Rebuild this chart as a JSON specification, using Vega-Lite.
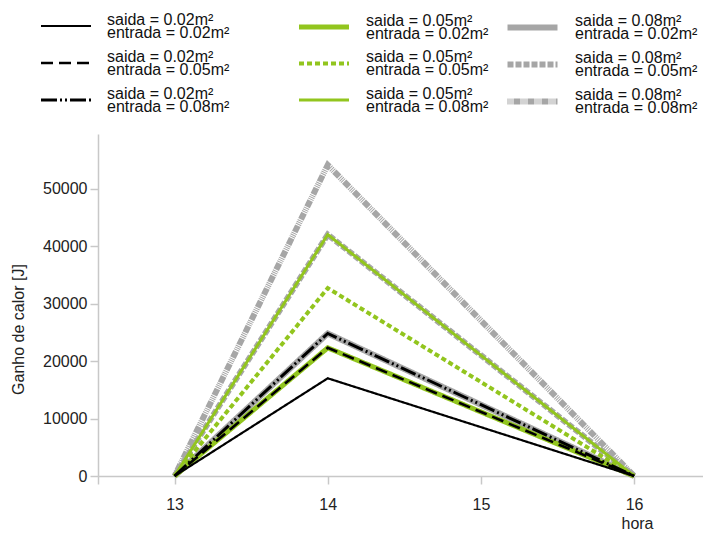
{
  "$schema": "https://vega.github.io/schema/vega-lite/v6.json",
  "width": 605,
  "height": 342,
  "autosize": {"type": "none"},
  "padding": {"left": 98, "top": 134, "right": 0, "bottom": 57},
  "background": "white",
  "data": {
    "values": [
      {"hora": 13, "ganho": 0, "saida": "0.02", "serie": "saida = 0.02m²|entrada = 0.02m²"},
      {"hora": 14, "ganho": 17000, "saida": "0.02", "serie": "saida = 0.02m²|entrada = 0.02m²"},
      {"hora": 16, "ganho": 0, "saida": "0.02", "serie": "saida = 0.02m²|entrada = 0.02m²"},
      {"hora": 13, "ganho": 0, "saida": "0.02", "serie": "saida = 0.02m²|entrada = 0.05m²"},
      {"hora": 14, "ganho": 22300, "saida": "0.02", "serie": "saida = 0.02m²|entrada = 0.05m²"},
      {"hora": 16, "ganho": 0, "saida": "0.02", "serie": "saida = 0.02m²|entrada = 0.05m²"},
      {"hora": 13, "ganho": 0, "saida": "0.02", "serie": "saida = 0.02m²|entrada = 0.08m²"},
      {"hora": 14, "ganho": 24800, "saida": "0.02", "serie": "saida = 0.02m²|entrada = 0.08m²"},
      {"hora": 16, "ganho": 0, "saida": "0.02", "serie": "saida = 0.02m²|entrada = 0.08m²"},
      {"hora": 13, "ganho": 0, "saida": "0.05", "serie": "saida = 0.05m²|entrada = 0.02m²"},
      {"hora": 14, "ganho": 22300, "saida": "0.05", "serie": "saida = 0.05m²|entrada = 0.02m²"},
      {"hora": 16, "ganho": 0, "saida": "0.05", "serie": "saida = 0.05m²|entrada = 0.02m²"},
      {"hora": 13, "ganho": 0, "saida": "0.05", "serie": "saida = 0.05m²|entrada = 0.05m²"},
      {"hora": 14, "ganho": 32700, "saida": "0.05", "serie": "saida = 0.05m²|entrada = 0.05m²"},
      {"hora": 16, "ganho": 0, "saida": "0.05", "serie": "saida = 0.05m²|entrada = 0.05m²"},
      {"hora": 13, "ganho": 0, "saida": "0.05", "serie": "saida = 0.05m²|entrada = 0.08m²"},
      {"hora": 14, "ganho": 42000, "saida": "0.05", "serie": "saida = 0.05m²|entrada = 0.08m²"},
      {"hora": 16, "ganho": 0, "saida": "0.05", "serie": "saida = 0.05m²|entrada = 0.08m²"},
      {"hora": 13, "ganho": 0, "saida": "0.08", "serie": "saida = 0.08m²|entrada = 0.02m²"},
      {"hora": 14, "ganho": 24800, "saida": "0.08", "serie": "saida = 0.08m²|entrada = 0.02m²"},
      {"hora": 16, "ganho": 0, "saida": "0.08", "serie": "saida = 0.08m²|entrada = 0.02m²"},
      {"hora": 13, "ganho": 0, "saida": "0.08", "serie": "saida = 0.08m²|entrada = 0.05m²"},
      {"hora": 14, "ganho": 42000, "saida": "0.08", "serie": "saida = 0.08m²|entrada = 0.05m²"},
      {"hora": 16, "ganho": 0, "saida": "0.08", "serie": "saida = 0.08m²|entrada = 0.05m²"},
      {"hora": 13, "ganho": 0, "saida": "0.08", "serie": "saida = 0.08m²|entrada = 0.08m²"},
      {"hora": 14, "ganho": 54100, "saida": "0.08", "serie": "saida = 0.08m²|entrada = 0.08m²"},
      {"hora": 16, "ganho": 0, "saida": "0.08", "serie": "saida = 0.08m²|entrada = 0.08m²"}
    ]
  },
  "layer": [
    {
      "transform": [{"filter": "datum.saida == '0.08'"}],
      "mark": {"type": "line", "strokeCap": "butt", "strokeJoin": "miter"},
      "encoding": {
        "x": {
          "field": "hora", "type": "quantitative",
          "scale": {"domain": [12.5, 16.45], "nice": false, "zero": false},
          "axis": {
            "values": [12.5, 13, 14, 15, 16],
            "labelExpr": "datum.value == 12.5 ? '' : format(datum.value, 'd')",
            "grid": false, "tickSize": 8, "labelPadding": 12,
            "title": "hora", "titleX": 539, "titleY": 47,
            "titleAlign": "center", "titleBaseline": "middle"
          }
        },
        "y": {
          "field": "ganho", "type": "quantitative",
          "scale": {"domain": [0, 59500], "nice": false},
          "axis": {
            "values": [0, 10000, 20000, 30000, 40000, 50000],
            "format": "d",
            "grid": false, "tickSize": 8, "labelPadding": 3,
            "title": "Ganho de calor [J]", "titleX": -80, "titleY": 195,
            "titleAlign": "center", "titleBaseline": "middle", "titleAngle": -90
          }
        },
        "detail": {"field": "serie"},
        "color": {
          "field": "serie", "type": "nominal",
          "scale": {"domain": ["saida = 0.08m²|entrada = 0.02m²", "saida = 0.08m²|entrada = 0.05m²", "saida = 0.08m²|entrada = 0.08m²"], "range": ["#a6a6a6", "#a6a6a6", "#a6a6a6"]},
          "legend": {"legendX": 419, "legendY": -122, "labelExpr": "split(datum.label, '|')", "encode": {"labels": {"update": {"lineHeight": {"value": 13}, "dy": {"value": -6.5}}}}}
        },
        "strokeDash": {
          "field": "serie", "type": "nominal",
          "scale": {"domain": ["saida = 0.08m²|entrada = 0.02m²", "saida = 0.08m²|entrada = 0.05m²", "saida = 0.08m²|entrada = 0.08m²"], "range": [[1, 0], [6, 2], [1, 1, 1, 1, 1, 1, 7, 1]]},
          "legend": {"legendX": 419, "legendY": -122, "labelExpr": "split(datum.label, '|')", "encode": {"labels": {"update": {"lineHeight": {"value": 13}, "dy": {"value": -6.5}}}}}
        },
        "strokeWidth": {
          "field": "serie", "type": "nominal",
          "scale": {"domain": ["saida = 0.08m²|entrada = 0.02m²", "saida = 0.08m²|entrada = 0.05m²", "saida = 0.08m²|entrada = 0.08m²"], "range": [6, 6, 6]},
          "legend": {"legendX": 419, "legendY": -122, "labelExpr": "split(datum.label, '|')", "encode": {"labels": {"update": {"lineHeight": {"value": 13}, "dy": {"value": -6.5}}}}}
        }
      }
    },
    {
      "transform": [{"filter": "datum.saida == '0.05'"}],
      "mark": {"type": "line", "strokeCap": "butt", "strokeJoin": "miter"},
      "encoding": {
        "x": {"field": "hora", "type": "quantitative"},
        "y": {"field": "ganho", "type": "quantitative"},
        "detail": {"field": "serie"},
        "color": {
          "field": "serie", "type": "nominal",
          "scale": {"domain": ["saida = 0.05m²|entrada = 0.02m²", "saida = 0.05m²|entrada = 0.05m²", "saida = 0.05m²|entrada = 0.08m²"], "range": ["#92c51e", "#92c51e", "#92c51e"]},
          "legend": {"legendX": 211, "legendY": -122, "labelExpr": "split(datum.label, '|')", "encode": {"labels": {"update": {"lineHeight": {"value": 13}, "dy": {"value": -6.5}}}}}
        },
        "strokeDash": {
          "field": "serie", "type": "nominal",
          "scale": {"domain": ["saida = 0.05m²|entrada = 0.02m²", "saida = 0.05m²|entrada = 0.05m²", "saida = 0.05m²|entrada = 0.08m²"], "range": [[1, 0], [5, 3], [1, 0]]},
          "legend": {"legendX": 211, "legendY": -122, "labelExpr": "split(datum.label, '|')", "encode": {"labels": {"update": {"lineHeight": {"value": 13}, "dy": {"value": -6.5}}}}}
        },
        "strokeWidth": {
          "field": "serie", "type": "nominal",
          "scale": {"domain": ["saida = 0.05m²|entrada = 0.02m²", "saida = 0.05m²|entrada = 0.05m²", "saida = 0.05m²|entrada = 0.08m²"], "range": [5, 3, 1.5]},
          "legend": {"legendX": 211, "legendY": -122, "labelExpr": "split(datum.label, '|')", "encode": {"labels": {"update": {"lineHeight": {"value": 13}, "dy": {"value": -6.5}}}}}
        }
      }
    },
    {
      "transform": [{"filter": "datum.saida == '0.02'"}],
      "mark": {"type": "line", "strokeCap": "butt", "strokeJoin": "miter"},
      "encoding": {
        "x": {"field": "hora", "type": "quantitative"},
        "y": {"field": "ganho", "type": "quantitative"},
        "detail": {"field": "serie"},
        "color": {
          "field": "serie", "type": "nominal",
          "scale": {"domain": ["saida = 0.02m²|entrada = 0.02m²", "saida = 0.02m²|entrada = 0.05m²", "saida = 0.02m²|entrada = 0.08m²"], "range": ["#000000", "#000000", "#000000"]},
          "legend": {"legendX": -46, "legendY": -122, "labelExpr": "split(datum.label, '|')", "encode": {"labels": {"update": {"lineHeight": {"value": 13}, "dy": {"value": -6.5}}}}}
        },
        "strokeDash": {
          "field": "serie", "type": "nominal",
          "scale": {"domain": ["saida = 0.02m²|entrada = 0.02m²", "saida = 0.02m²|entrada = 0.05m²", "saida = 0.02m²|entrada = 0.08m²"], "range": [[1, 0], [12, 6], [16, 3, 2, 3, 2, 3]]},
          "legend": {"legendX": -46, "legendY": -122, "labelExpr": "split(datum.label, '|')", "encode": {"labels": {"update": {"lineHeight": {"value": 13}, "dy": {"value": -6.5}}}}}
        },
        "strokeWidth": {
          "field": "serie", "type": "nominal",
          "scale": {"domain": ["saida = 0.02m²|entrada = 0.02m²", "saida = 0.02m²|entrada = 0.05m²", "saida = 0.02m²|entrada = 0.08m²"], "range": [2.2, 3, 3.5]},
          "legend": {"legendX": -46, "legendY": -122, "labelExpr": "split(datum.label, '|')", "encode": {"labels": {"update": {"lineHeight": {"value": 13}, "dy": {"value": -6.5}}}}}
        }
      }
    }
  ],
  "resolve": {"scale": {"color": "independent", "strokeDash": "independent", "strokeWidth": "independent"}},
  "config": {
    "view": {"stroke": null},
    "font": "Liberation Sans",
    "axis": {
      "domainColor": "#c8c8c8", "domainWidth": 1.5, "tickColor": "#c8c8c8", "tickWidth": 1.5,
      "labelFont": "Liberation Sans", "labelFontSize": 16, "labelColor": "#222222",
      "titleFont": "Liberation Sans", "titleFontSize": 16, "titleFontWeight": "normal", "titleColor": "#222222"
    },
    "legend": {
      "orient": "none", "title": null, "symbolType": "M-2,0H2", "symbolSize": 625,
      "labelFont": "Liberation Sans", "labelFontSize": 16, "labelColor": "#111111",
      "labelLimit": 0, "labelOffset": 27,
      "rowPadding": 7, "padding": 0, "symbolOpacity": 1
    }
  }
}
